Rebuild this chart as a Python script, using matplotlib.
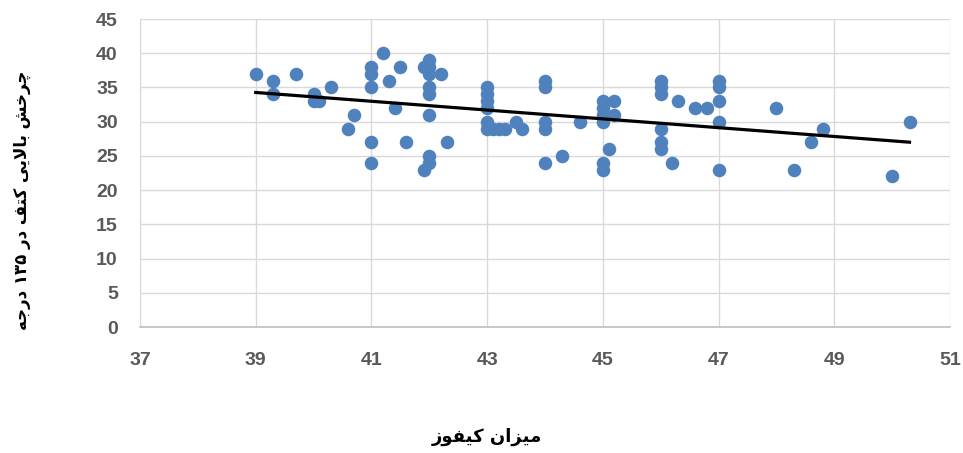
import numpy as np
import matplotlib
matplotlib.use("Agg")
import matplotlib.pyplot as plt

# ---------------- data ----------------
kyphosis = [39, 39.3, 39.3, 39.7, 40, 40, 40.1, 40.3, 40.7, 40.6,
            41, 41, 41, 41, 41, 41.2, 41.3, 41.5, 41.4, 41.6,
            41.9, 42, 42, 42, 42.2, 42, 42, 42, 42.3, 42, 42, 41.9,
            43, 43, 43, 43, 43, 43, 43.1, 43.2, 43.3, 43.5, 43.6,
            44, 44, 44, 44, 44, 44.3, 44.6,
            45, 45, 45, 45, 45, 45, 45.2, 45.2, 45.1,
            46, 46, 46, 46, 46, 46, 46.3, 46.2, 46.6, 46.8,
            47, 47, 47, 47, 47, 48, 48.3, 48.6, 48.8, 50, 50.3]
rotation = [37, 36, 34, 37, 34, 33, 33, 35, 31, 29,
            38, 37, 35, 27, 24, 40, 36, 38, 32, 27,
            38, 39, 38, 37, 37, 35, 34, 31, 27, 25, 24, 23,
            35, 34, 33, 32, 30, 29, 29, 29, 29, 30, 29,
            36, 35, 30, 29, 24, 25, 30,
            33, 32, 31, 30, 24, 23, 33, 31, 26,
            36, 35, 34, 29, 27, 26, 33, 24, 32, 32,
            36, 35, 33, 30, 23, 32, 23, 27, 29, 22, 30]

x_ticks = [37, 39, 41, 43, 45, 47, 49, 51]
y_ticks = [0, 5, 10, 15, 20, 25, 30, 35, 40, 45]

x_label = "میزان کیفوز"
y_label = "چرخش بالایی کتف در ۱۳۵ درجه"

# ------------- minimal Arabic/Persian shaping -------------
FORMS = {  # isolated, final, initial, medial
    'ا': ('\uFE8D', '\uFE8E', None, None),
    'ب': ('\uFE8F', '\uFE90', '\uFE91', '\uFE92'),
    'ت': ('\uFE95', '\uFE96', '\uFE97', '\uFE98'),
    'ج': ('\uFE9D', '\uFE9E', '\uFE9F', '\uFEA0'),
    'خ': ('\uFEA5', '\uFEA6', '\uFEA7', '\uFEA8'),
    'د': ('\uFEA9', '\uFEAA', None, None),
    'ر': ('\uFEAD', '\uFEAE', None, None),
    'ز': ('\uFEAF', '\uFEB0', None, None),
    'ش': ('\uFEB5', '\uFEB6', '\uFEB7', '\uFEB8'),
    'ف': ('\uFED1', '\uFED2', '\uFED3', '\uFED4'),
    'ل': ('\uFEDD', '\uFEDE', '\uFEDF', '\uFEE0'),
    'م': ('\uFEE1', '\uFEE2', '\uFEE3', '\uFEE4'),
    'ن': ('\uFEE5', '\uFEE6', '\uFEE7', '\uFEE8'),
    'ه': ('\uFEE9', '\uFEEA', '\uFEEB', '\uFEEC'),
    'و': ('\uFEED', '\uFEEE', None, None),
    'ی': ('\uFBFC', '\uFBFD', '\uFBFE', '\uFBFF'),
    'ک': ('\uFB8E', '\uFB8F', '\uFB90', '\uFB91'),
    'چ': ('\uFB7A', '\uFB7B', '\uFB7C', '\uFB7D'),
}


def shape(text):
    chars = list(text)
    out = []
    i = 0
    n = len(chars)
    prev_joins = False
    while i < n:
        c = chars[i]
        if c not in FORMS:
            out.append(c)
            prev_joins = False
            i += 1
            continue
        if c == 'ل' and i + 1 < n and chars[i + 1] == 'ا':
            out.append('\uFEFC' if prev_joins else '\uFEFB')
            prev_joins = False
            i += 2
            continue
        iso, fin, ini, med = FORMS[c]
        nxt = chars[i + 1] if i + 1 < n else None
        joins_next = ini is not None and nxt in FORMS
        if prev_joins and joins_next:
            out.append(med)
        elif prev_joins:
            out.append(fin)
        elif joins_next:
            out.append(ini)
        else:
            out.append(iso)
        prev_joins = joins_next
        i += 1
    rev = out[::-1]
    res = []
    j = 0
    while j < len(rev):
        if rev[j].isdigit():
            k = j
            while k < len(rev) and rev[k].isdigit():
                k += 1
            res.extend(rev[j:k][::-1])
            j = k
        else:
            res.append(rev[j])
            j += 1
    return ''.join(res)


# ---------------- plot ----------------
plt.rcParams['font.family'] = ['Liberation Sans', 'DejaVu Sans']
plt.rcParams['font.weight'] = 'bold'

fig = plt.figure(figsize=(9.63, 4.53), dpi=100)
ax = fig.add_axes([140 / 963, 1 - 327 / 453, 810 / 963, 308 / 453])

ax.scatter(kyphosis, rotation, s=95, color='#4F81BD', zorder=3, linewidths=0)

coef = np.polyfit(kyphosis, rotation, 1)
xl = np.array([min(kyphosis), max(kyphosis)])
ax.plot(xl, np.polyval(coef, xl), color='black', linewidth=2.3, zorder=4)

ax.set_xlim(37, 51)
ax.set_ylim(0, 45)
ax.set_xticks(x_ticks)
ax.set_yticks(y_ticks)
ax.set_xticklabels([str(v) for v in x_ticks], fontweight='bold', fontsize=14,
                   color='#595959')
ax.set_yticklabels([str(v) for v in y_ticks], fontweight='bold', fontsize=14,
                   color='#595959')
ax.grid(True, color='#D9D9D9', linewidth=1.0, zorder=0)
ax.set_axisbelow(True)
for side in ['top', 'right']:
    ax.spines[side].set_visible(False)
ax.spines['left'].set_color('#D9D9D9')
ax.spines['bottom'].set_color('#BFBFBF')
ax.spines['bottom'].set_linewidth(1.2)
ax.tick_params(axis='both', length=0)
ax.tick_params(axis='x', pad=18)
ax.tick_params(axis='y', pad=16)

fig.text(487 / 963, 1 - 437 / 453, shape(x_label), ha='center', va='center',
         fontsize=13, fontweight='bold', family=['DejaVu Sans'])
fig.text(22 / 963, 1 - 200 / 453, shape(y_label), ha='center', va='center',
         rotation=90, fontsize=12, fontweight='bold', family=['DejaVu Sans'])

fig.savefig('out.png', dpi=100)
